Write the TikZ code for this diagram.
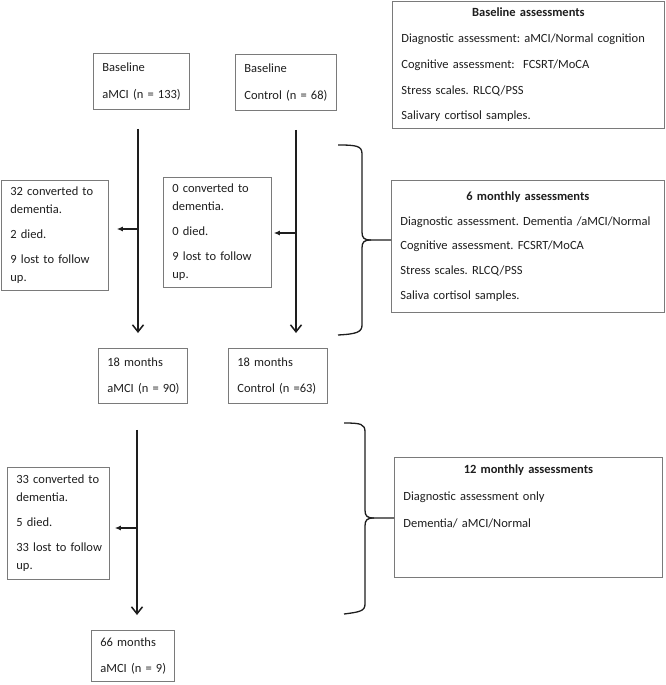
\documentclass[tikz,border=0pt]{standalone}
\usepackage{fontspec}
\setmainfont{Carlito}
\usetikzlibrary{arrows.meta,calc}
\definecolor{boxline}{HTML}{7A7A7A}
\definecolor{ink}{HTML}{1E1E1E}
\frenchspacing
\tikzset{
  box/.style={draw=boxline, line width=0.8pt, anchor=north west, align=left,
    inner xsep=9pt, inner ysep=0pt, text=ink,
    font=\fontsize{12.5}{18}\selectfont\frenchspacing},
  flow/.style={draw=ink, line width=1.5pt, -{Straight Barb[length=7pt,width=11pt,line width=1.5pt]}},
  side/.style={draw=ink, line width=1.1pt, -{Latex[length=6pt,width=5pt]}},
  brace/.style={draw=ink, line width=1.3pt}
}
\begin{document}
\begin{tikzpicture}[x=1pt,y=1pt]
\useasboundingbox (0,0) rectangle (665,-685);
\fill[white] (0,0) rectangle (665,-685);

% boxes
\node[box, text width=78pt, minimum height=56pt] (b1) at (93,-53)
  {Baseline\\[8.5pt]\mbox{aMCI (n = 133)}};
\node[box, text width=83pt, minimum height=56pt] (b2) at (235,-54)
  {Baseline\\[8.5pt]\mbox{Control (n = 68)}};
\node[box, text width=89pt, minimum height=110pt] (s1) at (1,-180)
  {\mbox{32 converted to}\\dementia.\\[7pt]2 died.\\[7pt]\mbox{9 lost to follow}\\up.};
\node[box, text width=90pt, minimum height=110pt] (s2) at (163,-177)
  {\mbox{0 converted to}\\dementia.\\[7pt]0 died.\\[7pt]\mbox{9 lost to follow}\\up.};
\node[box, text width=71pt, minimum height=55pt] (m1) at (98,-348)
  {18 months\\[8.5pt]\mbox{aMCI (n = 90)}};
\node[box, text width=81pt, minimum height=55pt] (m2) at (228,-348)
  {18 months\\[8.5pt]\mbox{Control (n =63)}};
\node[box, text width=84pt, minimum height=112pt] (s3) at (7,-467)
  {\mbox{33 converted to}\\dementia.\\[7pt]5 died.\\[7pt]\mbox{33 lost to follow}\\up.};
\node[box, text width=65pt, minimum height=51pt] (f) at (91,-630)
  {66 months\\[8pt]\mbox{aMCI (n = 9)}};

\node[box, text width=254pt, minimum height=127pt] (a1) at (392,-1)
  {\makebox[\hsize]{\bfseries Baseline assessments}\\[7.75pt]
   \mbox{Diagnostic assessment: aMCI/Normal cognition}\\[7.75pt]
   \mbox{Cognitive assessment:\ \ FCSRT/MoCA}\\[7.75pt]
   Stress scales. RLCQ/PSS\\[7.75pt]
   Salivary cortisol samples.};
\node[box, text width=255pt, minimum height=132pt] (a2) at (391,-180)
  {\makebox[\hsize]{\bfseries 6 monthly assessments}\\[6.75pt]
   \mbox{Diagnostic assessment. Dementia /aMCI/Normal}\\[6.75pt]
   \mbox{Cognitive assessment. FCSRT/MoCA}\\[6.75pt]
   Stress scales. RLCQ/PSS\\[6.75pt]
   Saliva cortisol samples.};
\node[box, text width=250pt, minimum height=120pt] (a3) at (394,-457)
  {\makebox[\hsize]{\bfseries 12 monthly assessments}\\[9pt]
   Diagnostic assessment only\\[9pt]
   Dementia/ aMCI/Normal\\[24pt]\mbox{}};

% trunk junctions
\coordinate (j1) at (138,-229);
\coordinate (j2) at (296,-233);
\coordinate (j3) at (137,-528);

% main arrows
\draw[flow] ($(b1.south -| j1)+(0,-19pt)$) -- ($(m1.north -| j1)+(0,15pt)$);
\draw[flow] ($(b2.south -| j2)+(0,-19pt)$) -- ($(m2.north -| j2)+(0,15pt)$);
\draw[flow] ($(m1.south -| j3)+(0,-26pt)$) -- ($(f.north -| j3)+(0,15pt)$);

% side arrows
\draw[side] (j1) -- ($(s1.east |- j1)+(8pt,0)$);
\draw[side] (j2) -- ($(s2.east |- j2)+(2pt,0)$);
\draw[side] (j3) -- ($(s3.east |- j3)+(5pt,0)$);

% braces
\coordinate (br1) at (371,-240);
\draw[brace] (338,-145) .. controls (357,-145) and (362,-146) .. (362,-154)
  -- (362,-232) .. controls (362,-238) and (364,-240) .. (br1) -- (a2.west |- br1);
\draw[brace] (br1) .. controls (364,-240) and (362,-242) .. (362,-248)
  -- (362,-325) .. controls (362,-332) and (357,-334) .. (338,-335);

\coordinate (br2) at (374,-518);
\draw[brace] (344,-423) .. controls (361,-423) and (365,-424) .. (365,-432)
  -- (365,-510) .. controls (365,-516) and (367,-518) .. (br2) -- (a3.west |- br2);
\draw[brace] (br2) .. controls (367,-518) and (365,-520) .. (365,-526)
  -- (365,-604) .. controls (365,-611) and (360,-612) .. (344,-614);
\end{tikzpicture}
\end{document}
